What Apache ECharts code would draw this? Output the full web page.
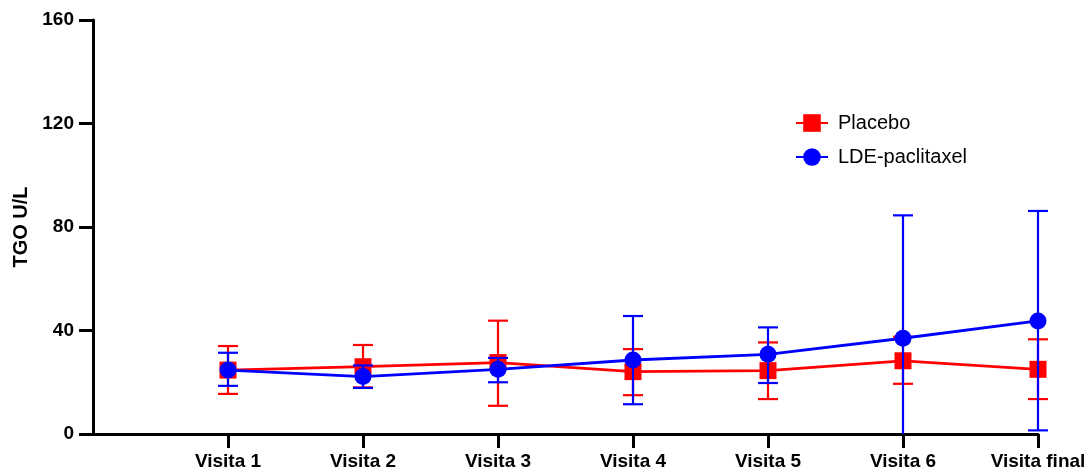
<!DOCTYPE html>
<html>
<head>
<meta charset="utf-8">
<script src="https://cdn.jsdelivr.net/npm/echarts@6/dist/echarts.min.js"></script>
<style>
html,body{margin:0;padding:0;background:#fff;}
#chart{width:1092px;height:475px;}
</style>
</head>
<body>
<div id="chart"></div>
<script>
const categories = ['Visita 1', 'Visita 2', 'Visita 3', 'Visita 4', 'Visita 5', 'Visita 6', 'Visita final'];
const yTicks = [0, 40, 80, 120, 160];

const placeboMean = [24.7, 26.0, 27.6, 24.1, 24.5, 28.3, 25.0];
const placeboLow  = [15.5, 18.0, 10.9, 15.0, 13.5, 19.4, 13.5];
const placeboHigh = [34.0, 34.4, 43.8, 32.8, 35.4, 37.6, 36.6];

const ldeMean = [24.7, 22.2, 25.0, 28.6, 30.8, 37.0, 43.7];
const ldeLow  = [18.6, 17.8, 20.0, 11.5, 19.7, -10.5, 1.4];
const ldeHigh = [31.4, 26.5, 29.4, 45.6, 41.2, 84.5, 86.2];

const RED = '#FF0000';
const BLUE = '#0000FF';
const FONT = 'Liberation Sans, Arial, Helvetica, sans-serif';
const Y_MIN = yTicks[0];

function errorSeries(name, color, low, high, z) {
  return {
    type: 'custom',
    name: name,
    z: z,
    clip: false,
    data: categories.map((c, i) => [i + 1, low[i], high[i]]),
    renderItem: function (params, api) {
      const x = api.value(0);
      const loVal = api.value(1);
      const clipped = loVal < Y_MIN;
      const pLo = api.coord([x, clipped ? Y_MIN : loVal]);
      const pHi = api.coord([x, api.value(2)]);
      const hw = 10;
      const st = { stroke: color, lineWidth: 2.2 };
      const children = [
        { type: 'line', shape: { x1: pHi[0], y1: pHi[1], x2: pLo[0], y2: pLo[1] }, style: st },
        { type: 'line', shape: { x1: pHi[0] - hw, y1: pHi[1], x2: pHi[0] + hw, y2: pHi[1] }, style: st }
      ];
      if (!clipped) {
        children.push({ type: 'line', shape: { x1: pLo[0] - hw, y1: pLo[1], x2: pLo[0] + hw, y2: pLo[1] }, style: st });
      }
      return { type: 'group', children: children };
    },
    silent: true,
    tooltip: { show: false }
  };
}

const chart = echarts.init(document.getElementById('chart'), null, { renderer: 'canvas' });
chart.setOption({
  animation: false,
  backgroundColor: '#fff',
  grid: { left: 93, right: 54, top: 20, bottom: 41, containLabel: false },
  legend: {
    orient: 'vertical',
    left: 790,
    top: 108,
    itemWidth: 32,
    itemHeight: 22,
    itemGap: 14,
    data: ['Placebo', 'LDE-paclitaxel'],
    textStyle: { fontFamily: FONT, fontSize: 20, color: '#000', padding: [0, 0, 0, 5] }
  },
  xAxis: {
    type: 'value',
    min: 0,
    max: categories.length,
    axisLine: { show: true, onZero: false, lineStyle: { color: '#000', width: 3 } },
    axisTick: { show: true, length: 14, lineStyle: { color: '#000', width: 3 }, customValues: categories.map((c, i) => i + 1) },
    axisLabel: {
      customValues: categories.map((c, i) => i + 1),
      formatter: v => categories[Math.round(v) - 1] || '',
      fontFamily: FONT, fontSize: 19, fontWeight: 'bold', color: '#000', margin: 18
    },
    splitLine: { show: false }
  },
  yAxis: {
    type: 'value',
    min: yTicks[0],
    max: yTicks[yTicks.length - 1],
    interval: 40,
    name: 'TGO U/L',
    nameLocation: 'middle',
    nameGap: 59,
    nameTextStyle: { fontFamily: FONT, fontSize: 20, fontWeight: 'bold', color: '#000' },
    axisLine: { show: true, lineStyle: { color: '#000', width: 3 } },
    axisTick: { show: true, length: 14, lineStyle: { color: '#000', width: 3 } },
    axisLabel: { fontFamily: FONT, fontSize: 19, fontWeight: 'bold', color: '#000', margin: 19 },
    splitLine: { show: false }
  },
  series: [
    errorSeries('PlaceboErr', RED, placeboLow, placeboHigh, 2),
    {
      type: 'line',
      name: 'Placebo',
      z: 3,
      data: categories.map((c, i) => [i + 1, placeboMean[i]]),
      symbol: 'rect',
      symbolSize: 17,
      itemStyle: { color: RED },
      lineStyle: { color: RED, width: 2.8 }
    },
    errorSeries('LDEErr', BLUE, ldeLow, ldeHigh, 4),
    {
      type: 'line',
      name: 'LDE-paclitaxel',
      z: 5,
      data: categories.map((c, i) => [i + 1, ldeMean[i]]),
      symbol: 'circle',
      symbolSize: 17,
      itemStyle: { color: BLUE },
      lineStyle: { color: BLUE, width: 2.8 }
    }
  ]
});
</script>
</body>
</html>
